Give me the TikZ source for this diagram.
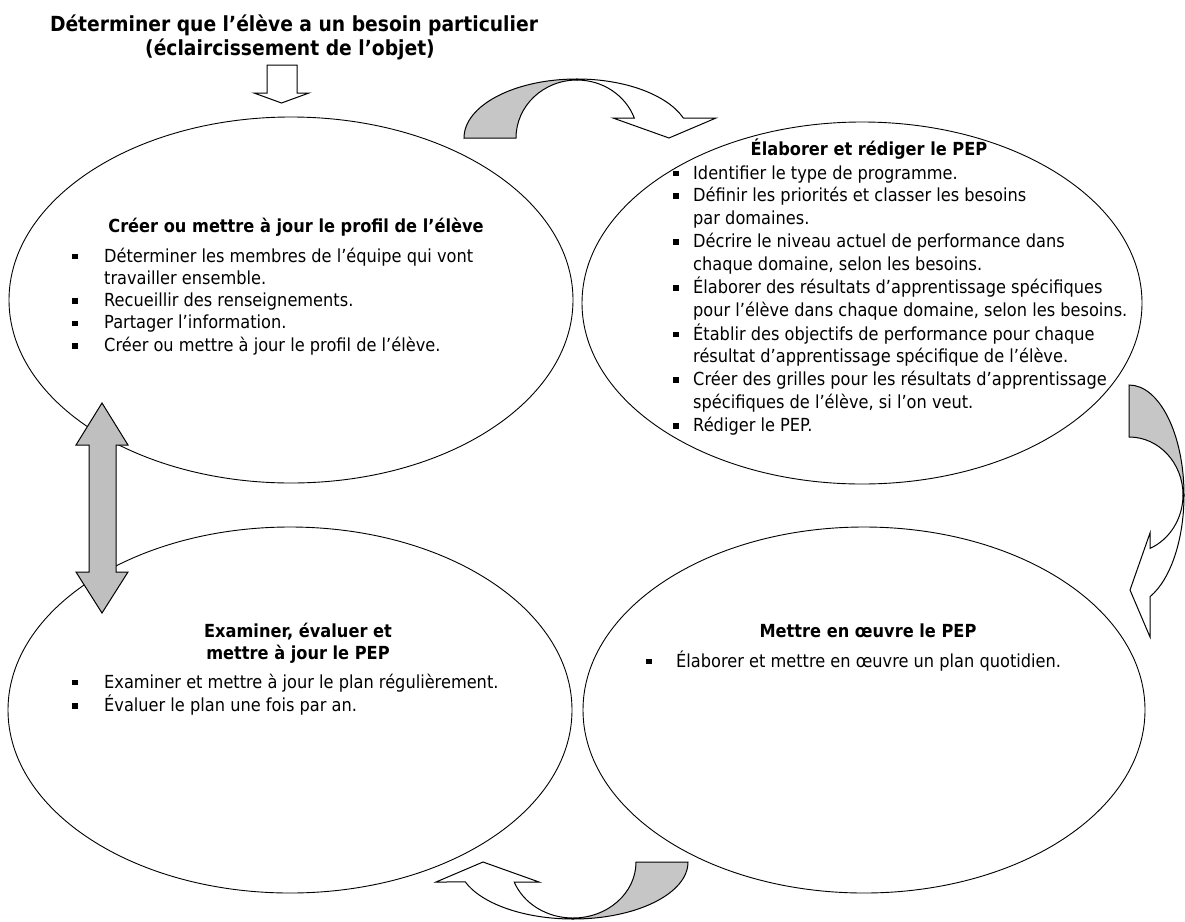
\documentclass[tikz,border=0pt]{standalone}
\usepackage{fontspec}
\setmainfont{DejaVu Sans}[FakeStretch=0.9]
\usetikzlibrary{shapes.geometric}
\newcommand{\blt}{\rule[2.6pt]{5.8pt}{5.8pt}}
\newcommand{\bcol}[1]{\makebox[#1][l]{\blt}}
\begin{document}
\begin{tikzpicture}[x=1pt,y=1pt,yscale=-1,
  bubble/.style={ellipse, draw, line width=0.9pt, inner sep=0pt, minimum width=564pt, minimum height=366pt},
  blockarrow/.style={draw, line width=1pt, line join=miter},
  back/.style={blockarrow, fill=gray!45},
  front/.style={blockarrow, fill=white},
  heading/.style={font=\bfseries\fontsize{18}{22.3}\selectfont, anchor=base, inner sep=0pt},
  toptitle/.style={font=\bfseries\fontsize{20.8}{24}\selectfont, anchor=base, inner sep=0pt},
  list/.style={font=\fontsize{18}{22.3}\selectfont, anchor=base west, inner sep=0pt},
  widelist/.style={font=\fontsize{18}{22.8}\selectfont, anchor=base west, inner sep=0pt}
]
\useasboundingbox (0,0) rectangle (1185,921);

% title
\node[toptitle] (t1) at (294,31) {Déterminer que l’élève a un besoin particulier};
\node[toptitle] (t2) at (290,55) {(éclaircissement de l’objet)};

% ellipses
\node[bubble] (e1) at (291,300) {};
\node[bubble, minimum width=560pt, minimum height=362pt] (e2) at (862,303) {};
\node[bubble] (e3) at (290,710) {};
\node[bubble, minimum width=562pt] (e4) at (864,710) {};

% ellipse 1
\node[heading] (h1) at (296,232) {Créer ou mettre à jour le profil de l’élève};
\node[list] (l1) at (72,262) {\begin{tabular}[t]{@{}l@{}l@{}}
\bcol{32pt} & Déterminer les membres de l’équipe qui vont\\
 & travailler ensemble.\\
\bcol{32pt} & Recueillir des renseignements.\\
\bcol{32pt} & Partager l’information.\\
\bcol{32pt} & Créer ou mettre à jour le profil de l’élève.
\end{tabular}};

% ellipse 2
\node[heading] (h2) at (869,155) {Élaborer et rédiger le PEP};
\node[widelist] (l2) at (673,179) {\begin{tabular}[t]{@{}l@{}l@{}}
\bcol{20pt} & Identifier le type de programme.\\
\bcol{20pt} & Définir les priorités et classer les besoins\\
 & par domaines.\\
\bcol{20pt} & Décrire le niveau actuel de performance dans\\
 & chaque domaine, selon les besoins.\\
\bcol{20pt} & Élaborer des résultats d’apprentissage spécifiques\\
 & pour l’élève dans chaque domaine, selon les besoins.\\
\bcol{20pt} & Établir des objectifs de performance pour chaque\\
 & résultat d’apprentissage spécifique de l’élève.\\
\bcol{20pt} & Créer des grilles pour les résultats d’apprentissage\\
 & spécifiques de l’élève, si l’on veut.\\
\bcol{20pt} & Rédiger le PEP.
\end{tabular}};

% ellipse 3
\node[heading] (h3a) at (298,637) {Examiner, évaluer et};
\node[heading] (h3b) at (298,659) {mettre à jour le PEP};
\node[list] (l3) at (72,688) {\begin{tabular}[t]{@{}l@{}l@{}}
\bcol{32pt} & Examiner et mettre à jour le plan régulièrement.\\
\bcol{32pt} & Évaluer le plan une fois par an.
\end{tabular}};

% ellipse 4
\node[heading] (h4) at (868,637) {Mettre en œuvre le PEP};
\node[list] (l4) at (646,667) {\begin{tabular}[t]{@{}l@{}l@{}}
\bcol{30pt} & Élaborer et mettre en œuvre un plan quotidien.
\end{tabular}};

% hollow down arrow under the title
\draw[front] (267,65) -- (297,65) -- (297,93) -- (309,93) -- (281.5,103) -- (254,93) -- (267,93) -- cycle;

% top curved arrow
\draw[back] (464,138) arc[start angle=180,end angle=270,x radius=113,y radius=59] -- (577,80) arc[start angle=270,end angle=180,x radius=61,y radius=58] -- cycle;
\draw[front] (577,79) arc[start angle=270,end angle=340.2,x radius=113,y radius=59] -- (716,118) -- (669,138) -- (613,118) -- (634.3,118) arc[start angle=339.8,end angle=270,x radius=61,y radius=58] -- cycle;

% right curved arrow
\draw[back] (1129,385) arc[start angle=270,end angle=360,x radius=55,y radius=110] -- (1183,495) arc[start angle=0,end angle=-90,x radius=54,y radius=58] -- cycle;
\draw[front] (1184,495) arc[start angle=0,end angle=67.55,x radius=55,y radius=110] -- (1150,637) -- (1130,590) -- (1150,533) -- (1150,548.4) arc[start angle=67.1,end angle=0,x radius=54,y radius=58] -- cycle;

% bottom curved arrow
\draw[back] (688,862) arc[start angle=0,end angle=90,x radius=115,y radius=57] -- (573,918) arc[start angle=90,end angle=0,x radius=63,y radius=56] -- cycle;
\draw[front] (573,919) arc[start angle=90,end angle=159.5,x radius=115,y radius=57] -- (436,882) -- (483,862) -- (539,882) -- (514.2,882) arc[start angle=159.1,end angle=90,x radius=63,y radius=56] -- cycle;

% double arrow
\draw[blockarrow, fill=gray!50] (102,403) -- (128,445) -- (116,445) -- (116,572) -- (128,572) -- (102,613) -- (76,572) -- (89,572) -- (89,445) -- (76,445) -- cycle;
\end{tikzpicture}
\end{document}
